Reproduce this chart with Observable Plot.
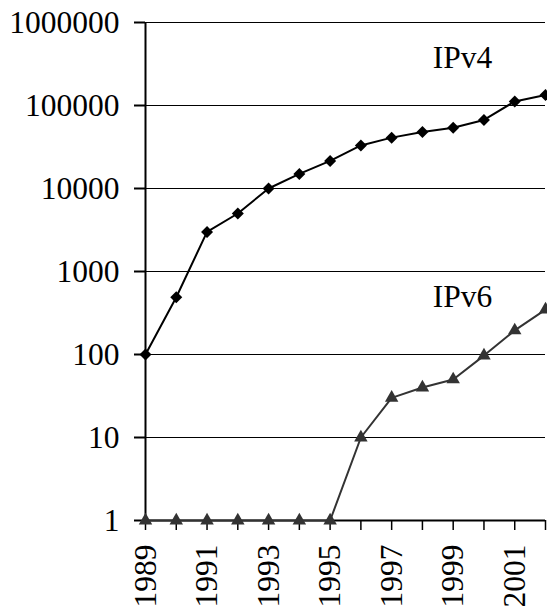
<!DOCTYPE html>
<html><head><meta charset="utf-8">
<script src="https://cdn.jsdelivr.net/npm/d3@7"></script>
<script src="https://cdn.jsdelivr.net/npm/@observablehq/plot@0.6"></script>
<style>body{margin:0;background:#fff}</style>
</head><body><div id="chart"></div>
<script>
const years = [1989,1990,1991,1992,1993,1994,1995,1996,1997,1998,1999,2000,2001,2002];
const ipv4 = [100,490,3000,5000,10000,15000,21500,33000,41000,48000,54000,67000,112000,134000];
const ipv6 = [1,1,1,1,1,1,1,10,30,40,50,97,195,348];
const yTicks = [1,10,100,1000,10000,100000,1000000];
const xLabelYears = [1989,1991,1993,1995,1997,1999,2001];
const seriesNames = ["IPv4","IPv6"];

const v4 = years.map((x,i)=>({x, y: ipv4[i]}));
const v6 = years.map((x,i)=>({x, y: ipv6[i]}));

const chart = Plot.plot({
  width: 547, height: 606,
  marginLeft: 145, marginRight: 2, marginTop: 22, marginBottom: 86,
  style: {fontFamily: "Liberation Serif", fontSize: "31px", background: "white", color: "black"},
  x: {type: "linear", domain: [1989, 2002]},
  y: {type: "log", domain: [1, 1e6]},
  marks: [
    Plot.ruleY(yTicks.slice(1), {x1: 1989, x2: 2002, stroke: "black", strokeWidth: 1}),
    Plot.axisY({ticks: yTicks, tickFormat: d => String(d), tickSize: 11, tickPadding: 15, fontSize: 31.5, strokeWidth: 2, label: null}),
    Plot.axisX({ticks: years, tickFormat: d => xLabelYears.includes(d) ? String(d) : "", tickSize: 10, tickPadding: 14, tickRotate: -90, textAnchor: "end", fontSize: 31.5, strokeWidth: 1.5, label: null}),
    Plot.ruleX([1989], {y1: 1, y2: 1e6, stroke: "black", strokeWidth: 2}),
    Plot.ruleY([1], {x1: 1989, x2: 2002, stroke: "black", strokeWidth: 2}),
    Plot.line(v6, {x: "x", y: "y", stroke: "#333", strokeWidth: 2}),
    Plot.dot(v6, {x: "x", y: "y", symbol: "triangle", fill: "#333", r: 5}),
    Plot.line(v4, {x: "x", y: "y", stroke: "black", strokeWidth: 2}),
    Plot.dot(v4, {x: "x", y: "y", symbol: "diamond2", fill: "black", r: 5.4}),
    Plot.text([seriesNames[0]], {x: 1999.3, y: 370000, text: d => d, fontSize: 31.5, fill: "black"}),
    Plot.text([seriesNames[1]], {x: 1999.3, y: 490, text: d => d, fontSize: 31.5, fill: "black"})
  ]
});
document.getElementById("chart").appendChild(chart);
</script>
</body></html>
